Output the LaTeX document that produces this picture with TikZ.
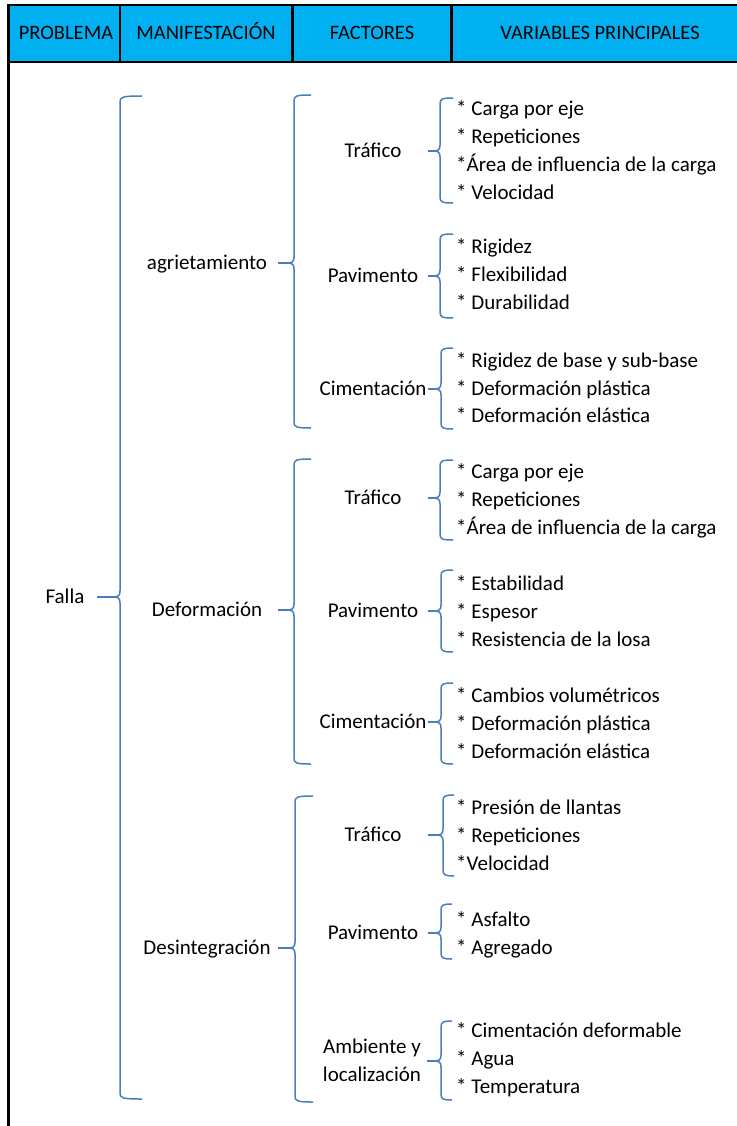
\documentclass[tikz,border=0pt]{standalone}
\usepackage{fontspec}
\setmainfont{Carlito}
\definecolor{hdr}{HTML}{00B0F0}
\definecolor{brc}{HTML}{4A7EBB}
\tikzset{
  bracel/.style={draw=brc, line width=1.5pt},
  conn/.style={draw=brc, line width=1.5pt},
  lbl/.style={inner sep=0pt, text height=13pt, text depth=0pt, font=\fontsize{21}{28}\selectfont},
  hlbl/.style={inner sep=0pt, text height=13pt, text depth=0pt, font=\fontsize{20.5}{28}\selectfont},
  itm/.style={lbl, anchor=west},
  lvA/.style={lbl, minimum width=64pt},
  lvB/.style={lbl, minimum width=142pt},
  lvC/.style={lbl, minimum width=110pt},
  frame/.style={draw=black, line width=2.6pt},
}
% #1 x, #2 top, #3 mid, #4 bottom, #5 right end, #6 tip name
\newcommand\mybrace[6]{%
  \draw[bracel] (#5,#2) .. controls (#1+2,#2) and (#1,#2+1) .. (#1,#2+6)
    -- (#1,#3-6) .. controls (#1,#3-1) and (#1-2,#3) .. (#1-7,#3)
    .. controls (#1-2,#3) and (#1,#3+1) .. (#1,#3+6)
    -- (#1,#4-6) .. controls (#1,#4-1) and (#1+2,#4) .. (#5,#4);
  \coordinate (#6) at (#1-7,#3);
}
\begin{document}
\begin{tikzpicture}[x=1pt,y=-1pt]
\useasboundingbox (0,0) rectangle (736,1126);
% header
\fill[hdr] (8.5,5) rectangle (745,62);
\draw[frame] (745,5) -- (8.5,5) -- (8.5,1135);
\draw[frame] (8.5,62) -- (745,62);
\draw[frame] (120,5) -- (120,62);
\draw[frame] (292.5,5) -- (292.5,62);
\draw[frame] (451.5,5) -- (451.5,62);
\node[hlbl] (h1) at (66,33) {PROBLEMA};
\node[hlbl] (h2) at (206,33) {MANIFESTACIÓN};
\node[hlbl] (h3) at (372,33) {FACTORES};
\node[hlbl] (h4) at (600,33) {VARIABLES PRINCIPALES};

% level 1
\node[lvA] (falla) at (65,597) {Falla};
\mybrace{120}{96}{597}{1099}{142}{tF}
\draw[conn] (falla.east) -- (tF);

% level 2
\node[lvB] (agr) at (207,263) {agrietamiento};
\mybrace{294}{95}{263}{428}{311}{tAgr}
\draw[conn] (agr.east) -- (tAgr);
\node[lvB] (def) at (207,610) {Deformación};
\mybrace{294}{459}{610}{764}{311}{tDef}
\draw[conn] (def.east) -- (tDef);
\node[lvB] (des) at (207,948) {Desintegración};
\mybrace{295}{796}{948}{1102}{313}{tDes}
\draw[conn] (des.east) -- (tDes);

% group A
\node[lvC] (aT) at (373,151) {Tráfico};
\mybrace{440}{98}{151}{203}{453}{taT}
\draw[conn] (aT.east) -- (taT);
\node[itm] (aT1) at (456,109) {* Carga por eje};
\node[itm] (aT2) at (456,137) {* Repeticiones};
\node[itm] (aT3) at (456,165) {*Área de influencia de la carga};
\node[itm] (aT4) at (456,193) {* Velocidad};

\node[lvC] (aP) at (373,276) {Pavimento};
\mybrace{440}{234}{276}{318}{453}{taP}
\draw[conn] (aP.east) -- (taP);
\node[itm] (aP1) at (456,247) {* Rigidez};
\node[itm] (aP2) at (456,275) {* Flexibilidad};
\node[itm] (aP3) at (456,303) {* Durabilidad};

\node[lvC] (aC) at (373,389) {Cimentación};
\mybrace{441}{348}{389}{429}{453}{taC}
\draw[conn] (aC.east) -- (taC);
\node[itm] (aC1) at (456,361) {* Rigidez de base y sub-base};
\node[itm] (aC2) at (456,389) {* Deformación plástica};
\node[itm] (aC3) at (456,416) {* Deformación elástica};

% group B
\node[lvC] (bT) at (373,498) {Tráfico};
\mybrace{440}{460}{498}{540}{453}{tbT}
\draw[conn] (bT.east) -- (tbT);
\node[itm] (bT1) at (456,472) {* Carga por eje};
\node[itm] (bT2) at (456,500) {* Repeticiones};
\node[itm] (bT3) at (456,528) {*Área de influencia de la carga};

\node[lvC] (bP) at (373,611) {Pavimento};
\mybrace{441}{570}{611}{652}{453}{tbP}
\draw[conn] (bP.east) -- (tbP);
\node[itm] (bP1) at (456,584) {* Estabilidad};
\node[itm] (bP2) at (456,612) {* Espesor};
\node[itm] (bP3) at (456,640) {* Resistencia de la losa};

\node[lvC] (bC) at (373,722) {Cimentación};
\mybrace{441}{683}{722}{764}{453}{tbC}
\draw[conn] (bC.east) -- (tbC);
\node[itm] (bC1) at (456,696) {* Cambios volumétricos};
\node[itm] (bC2) at (456,724) {* Deformación plástica};
\node[itm] (bC3) at (456,752) {* Deformación elástica};

% group C
\node[lvC] (cT) at (373,835) {Tráfico};
\mybrace{443}{795}{835}{876}{454}{tcT}
\draw[conn] (cT.east) -- (tcT);
\node[itm] (cT1) at (456,808) {* Presión de llantas};
\node[itm] (cT2) at (456,836) {* Repeticiones};
\node[itm] (cT3) at (456,864) {*Velocidad};

\node[lvC] (cP) at (373,933) {Pavimento};
\mybrace{441}{904}{933}{959}{452}{tcP}
\draw[conn] (cP.east) -- (tcP);
\node[itm] (cP1) at (456,920) {* Asfalto};
\node[itm] (cP2) at (456,948) {* Agregado};

\node[inner sep=0pt, align=center, minimum width=110pt, font=\fontsize{21}{28}\selectfont] (cA) at (372,1060) {Ambiente y\\localización};
\mybrace{441}{1021}{1061}{1100}{452}{tcA}
\draw[conn] (cA.east |- tcA) -- (tcA);
\node[itm] (cA1) at (456,1031) {* Cimentación deformable};
\node[itm] (cA2) at (456,1059) {* Agua};
\node[itm] (cA3) at (456,1087) {* Temperatura};
\end{tikzpicture}
\end{document}
